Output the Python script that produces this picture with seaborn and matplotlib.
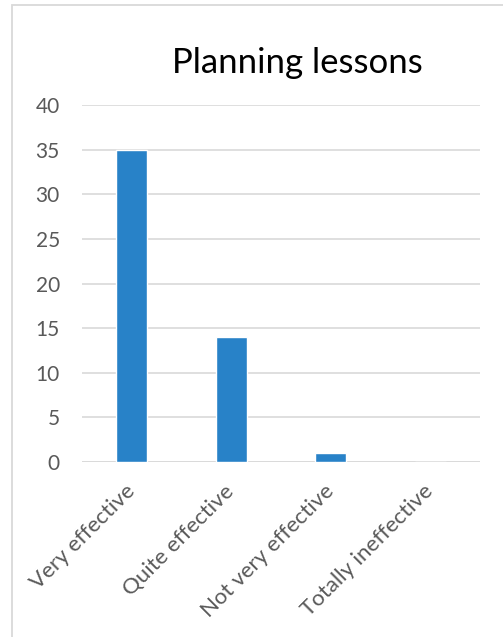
import matplotlib
matplotlib.use("Agg")
import matplotlib.pyplot as plt
import seaborn as sns
import pandas as pd
from matplotlib.patches import Rectangle

categories = ["Very effective", "Quite effective", "Not very effective", "Totally ineffective"]
counts = [35, 14, 1, 0]
y_ticks = [0, 5, 10, 15, 20, 25, 30, 35, 40]

sns.set_theme(style="white")
plt.rcParams["font.family"] = ["Lato", "DejaVu Sans"]

W, H = 503, 637
fig = plt.figure(figsize=(W / 100, H / 100), dpi=100)
fig.patch.set_facecolor("white")

# outer chart frame
fig.patches.append(Rectangle((12 / W, -0.1), 1.2, 1 - 5 / H + 0.1,
                             transform=fig.transFigure, fill=False,
                             edgecolor="#d9d9d9", linewidth=1.3))

ax = fig.add_axes([82 / W, (H - 462) / H, (480 - 82) / W, (462 - 105) / H])
df = pd.DataFrame({"category": categories, "count": counts})
sns.barplot(data=df, x="category", y="count", color="#2882c8", width=0.31,
            saturation=1, ax=ax, zorder=3)

ax.set_ylim(0, 40)
ax.set_xlim(-0.5, 3.5)
ax.set_yticks(y_ticks)
ax.set_yticklabels([str(v) for v in y_ticks], fontsize=15, color="#595959")
ax.yaxis.grid(True, color="#d9d9d9", linewidth=1.2, zorder=0)
ax.xaxis.grid(False)
for s in ax.spines.values():
    s.set_visible(False)
ax.axhline(0, color="#d9d9d9", linewidth=1.2, zorder=2)
ax.tick_params(axis="y", length=0, pad=16)
ax.tick_params(axis="x", length=0, pad=19)
ax.set_xticks(range(len(categories)))
ax.set_xticklabels(categories, rotation=45, ha="right", va="center",
                   rotation_mode="anchor", fontsize=16, color="#595959")
ax.set_xlabel("")
ax.set_ylabel("")

fig.text(297 / W, 1 - 63 / H, "Planning lessons", ha="center", va="center",
         fontsize=25, color="black")

fig.savefig("out.png", dpi=100, facecolor="white")
